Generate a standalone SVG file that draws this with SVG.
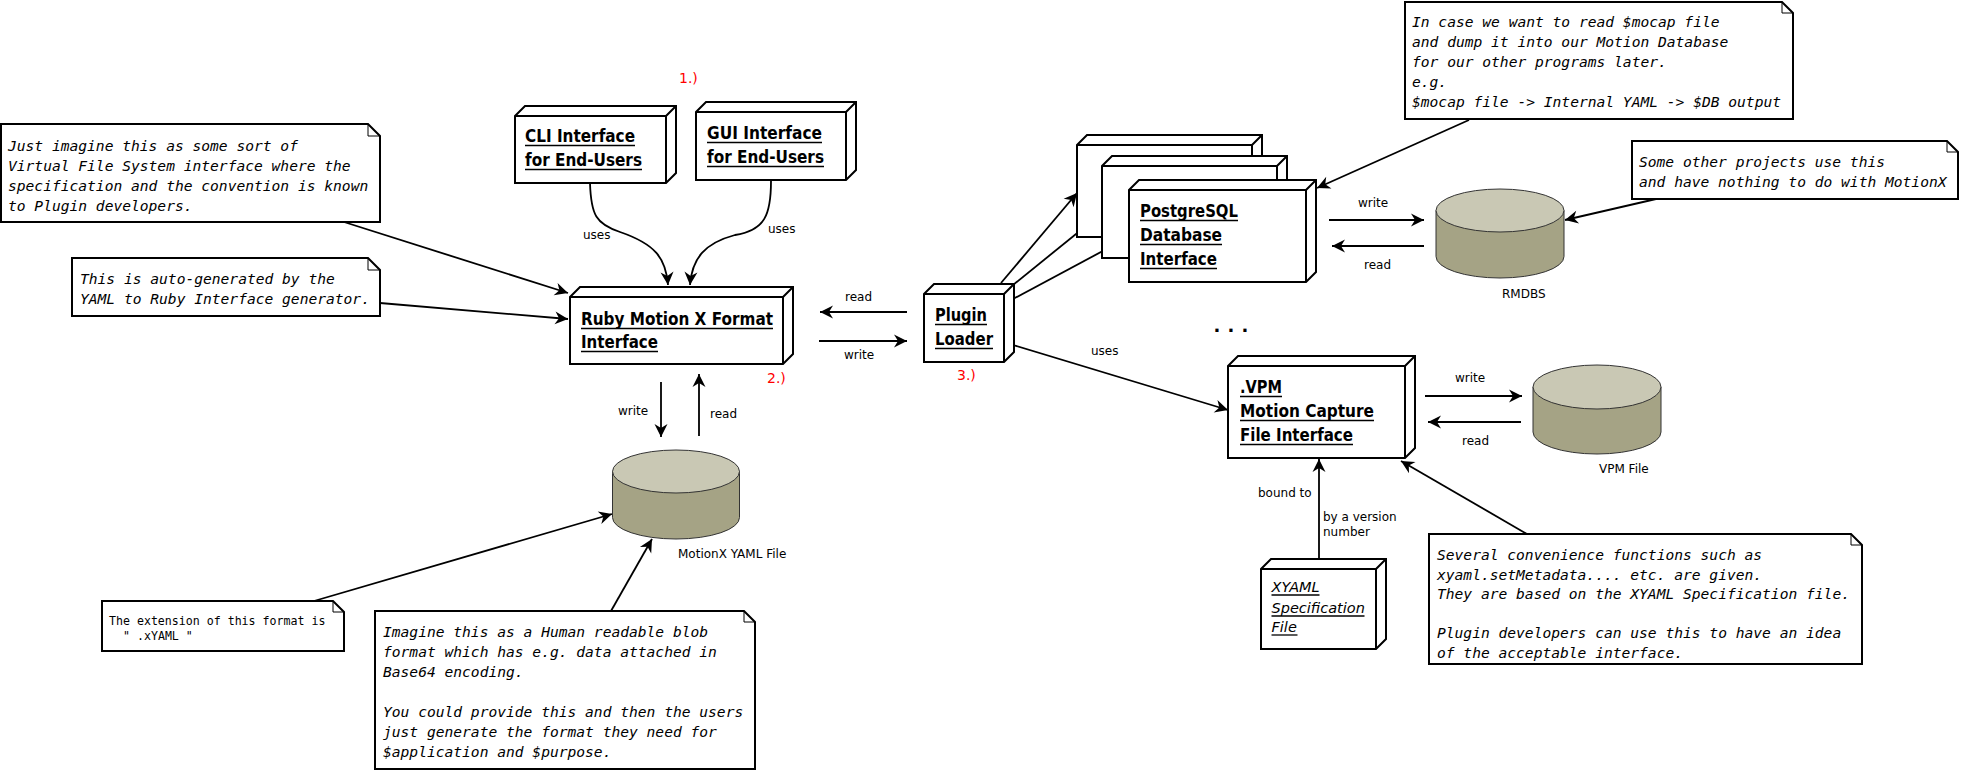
<svg xmlns="http://www.w3.org/2000/svg" width="1961" height="771" viewBox="0 0 1961 771">
<style>
.box{fill:#fff;stroke:#000;stroke-width:2;stroke-linejoin:miter}
.in{fill:none;stroke:#000;stroke-width:2}
.note{fill:#fff;stroke:#000;stroke-width:2}
.fold{fill:none;stroke:#000;stroke-width:1}
.conn{fill:none;stroke:#000;stroke-width:1.8;marker-end:url(#arr)}
.lbl{font-family:"DejaVu Sans",sans-serif;font-size:12px;fill:#000}
.nl{font-family:"DejaVu Sans",sans-serif;font-weight:bold;font-size:18.5px;fill:#000}
.il{font-family:"DejaVu Sans",sans-serif;font-style:italic;font-size:14.5px;fill:#000}
.ul{stroke:#000;stroke-width:1.3}
.mono{font-family:"DejaVu Sans Mono",monospace;font-style:italic;font-size:14.6px;fill:#000}
.mono2{font-family:"DejaVu Sans Mono",monospace;font-size:11.6px;fill:#000}
.red{font-family:"DejaVu Sans",sans-serif;font-size:14px;fill:#f00}
.ctop{fill:#c9c8b4;stroke:#333;stroke-width:1}
.cbody{fill:#a5a385;stroke:#333;stroke-width:1}
</style>
<defs>
<marker id="arr" viewBox="-14 -7 14 14" refX="0" refY="0" markerWidth="14" markerHeight="14" markerUnits="userSpaceOnUse" orient="auto">
<path d="M0,0 L-13,-6.5 L-9,0 L-13,6.5 Z" fill="#000"/>
</marker>
</defs>
<rect width="1961" height="771" fill="#fff"/>

<!-- connectors -->
<g id="connectors">
<path class="conn" d="M344,222 L568,293"/>
<path class="conn" d="M380,303 L568,319"/>
<path class="conn" d="M590,183 C591,215 596,224 620,232 C655,244 666,258 668,285"/>
<path class="conn" d="M771,181 C771,215 765,230 735,235 C705,243 692,258 690,285"/>
<path class="conn" d="M661,382 L661,437"/>
<path class="conn" d="M699,436 L699,374"/>
<path class="conn" d="M907,312 L820,312"/>
<path class="conn" d="M819,341 L907,341"/>
<path class="conn" d="M1001,283 L1077,193"/>
<path class="conn" d="M1013,285 L1102,213"/>
<path class="conn" d="M1013,299 L1129,237"/>
<path class="conn" d="M1013,345 L1228,410"/>
<path class="conn" d="M1469,120 L1317,188"/>
<path class="conn" d="M1329,220 L1424,220"/>
<path class="conn" d="M1424,246 L1332,246"/>
<path class="conn" d="M1656,199 L1565,220"/>
<path class="conn" d="M1425,396 L1522,396"/>
<path class="conn" d="M1521,422 L1428,422"/>
<path class="conn" d="M1319,559 L1319,459"/>
<path class="conn" d="M1527,534 L1401,461"/>
<path class="conn" d="M314,601 L612,514"/>
<path class="conn" d="M611,611 L652,539"/>
<text class="lbl" x="583" y="239">uses</text>
<text class="lbl" x="768" y="233">uses</text>
<text class="lbl" x="845" y="301">read</text>
<text class="lbl" x="844" y="359">write</text>
<text class="lbl" x="618" y="415">write</text>
<text class="lbl" x="710" y="418">read</text>
<text class="lbl" x="1091" y="355">uses</text>
<text class="lbl" x="1358" y="207">write</text>
<text class="lbl" x="1364" y="269">read</text>
<text class="lbl" x="1455" y="382">write</text>
<text class="lbl" x="1462" y="445">read</text>
<text class="lbl" x="1258" y="497">bound to</text>
<text class="lbl" x="1323" y="521">by a version</text>
<text class="lbl" x="1323" y="536">number</text>
</g>

<!-- nodes -->
<g id="cli">
<path class="box" d="M515,116 L525,106 L676,106 L676,173 L666,183 L515,183 Z"/>
<path class="in" d="M515,116 H666 V183 M666,116 L676,106"/>
<text class="nl" x="525" y="142" textLength="110" lengthAdjust="spacingAndGlyphs">CLI Interface</text>
<line class="ul" x1="525" y1="145.5" x2="635" y2="145.5"/>
<text class="nl" x="525" y="166" textLength="117" lengthAdjust="spacingAndGlyphs">for End-Users</text>
<line class="ul" x1="525" y1="169.5" x2="642" y2="169.5"/>
</g>

<g id="gui">
<path class="box" d="M696,112 L706,102 L856,102 L856,170 L846,180 L696,180 Z"/>
<path class="in" d="M696,112 H846 V180 M846,112 L856,102"/>
<text class="nl" x="707" y="139" textLength="115" lengthAdjust="spacingAndGlyphs">GUI Interface</text>
<line class="ul" x1="707" y1="142.5" x2="822" y2="142.5"/>
<text class="nl" x="707" y="163" textLength="117" lengthAdjust="spacingAndGlyphs">for End-Users</text>
<line class="ul" x1="707" y1="166.5" x2="824" y2="166.5"/>
</g>

<g id="ruby">
<path class="box" d="M570,297 L580,287 L793,287 L793,354 L783,364 L570,364 Z"/>
<path class="in" d="M570,297 H783 V364 M783,297 L793,287"/>
<text class="nl" x="581" y="325" textLength="192" lengthAdjust="spacingAndGlyphs">Ruby Motion X Format</text>
<line class="ul" x1="581" y1="328.5" x2="773" y2="328.5"/>
<text class="nl" x="581" y="348" textLength="77" lengthAdjust="spacingAndGlyphs">Interface</text>
<line class="ul" x1="581" y1="351.5" x2="658" y2="351.5"/>
</g>

<g id="plugin">
<path class="box" d="M924,294 L934,284 L1014,284 L1014,352 L1004,362 L924,362 Z"/>
<path class="in" d="M924,294 H1004 V362 M1004,294 L1014,284"/>
<text class="nl" x="935" y="321" textLength="52" lengthAdjust="spacingAndGlyphs">Plugin</text>
<line class="ul" x1="935" y1="324.5" x2="987" y2="324.5"/>
<text class="nl" x="935" y="345" textLength="58" lengthAdjust="spacingAndGlyphs">Loader</text>
<line class="ul" x1="935" y1="348.5" x2="993" y2="348.5"/>
</g>

<g id="stack1">
<path class="box" d="M1077,145 L1087,135 L1262,135 L1262,227 L1252,237 L1077,237 Z"/>
<path class="in" d="M1077,145 H1252 V237 M1252,145 L1262,135"/>
</g>
<g id="stack2">
<path class="box" d="M1102,166 L1112,156 L1287,156 L1287,248 L1277,258 L1102,258 Z"/>
<path class="in" d="M1102,166 H1277 V258 M1277,166 L1287,156"/>
</g>
<g id="postgres">
<path class="box" d="M1129,190 L1139,180 L1316,180 L1316,272 L1306,282 L1129,282 Z"/>
<path class="in" d="M1129,190 H1306 V282 M1306,190 L1316,180"/>
<text class="nl" x="1140" y="217" textLength="98" lengthAdjust="spacingAndGlyphs">PostgreSQL</text>
<line class="ul" x1="1140" y1="220.5" x2="1238" y2="220.5"/>
<text class="nl" x="1140" y="241" textLength="82" lengthAdjust="spacingAndGlyphs">Database</text>
<line class="ul" x1="1140" y1="244.5" x2="1222" y2="244.5"/>
<text class="nl" x="1140" y="265" textLength="77" lengthAdjust="spacingAndGlyphs">Interface</text>
<line class="ul" x1="1140" y1="268.5" x2="1217" y2="268.5"/>
</g>

<g id="vpm">
<path class="box" d="M1228,366 L1238,356 L1415,356 L1415,448 L1405,458 L1228,458 Z"/>
<path class="in" d="M1228,366 H1405 V458 M1405,366 L1415,356"/>
<text class="nl" x="1240" y="393" textLength="42" lengthAdjust="spacingAndGlyphs">.VPM</text>
<line class="ul" x1="1240" y1="396.5" x2="1282" y2="396.5"/>
<text class="nl" x="1240" y="417" textLength="134" lengthAdjust="spacingAndGlyphs">Motion Capture</text>
<line class="ul" x1="1240" y1="420.5" x2="1374" y2="420.5"/>
<text class="nl" x="1240" y="441" textLength="113" lengthAdjust="spacingAndGlyphs">File Interface</text>
<line class="ul" x1="1240" y1="444.5" x2="1353" y2="444.5"/>
</g>

<g id="xyaml">
<path class="box" d="M1261,569 L1271,559 L1386,559 L1386,639 L1376,649 L1261,649 Z"/>
<path class="in" d="M1261,569 H1376 V649 M1376,569 L1386,559"/>
<text class="il" x="1271.5" y="592">XYAML</text>
<line class="ul" x1="1271.5" y1="595" x2="1319.5" y2="595"/>
<text class="il" x="1271.5" y="613">Specification</text>
<line class="ul" x1="1271.5" y1="616" x2="1364.5" y2="616"/>
<text class="il" x="1271.5" y="632">File</text>
<line class="ul" x1="1271.5" y1="635" x2="1297.5" y2="635"/>
</g>

<g id="motionx-file">
<path class="cbody" d="M612.5,471.5 L612.5,517.5 A63.5,21.5 0 0 0 739.5,517.5 L739.5,471.5 Z"/>
<ellipse class="ctop" cx="676" cy="471.5" rx="63.5" ry="21.5"/>
<text class="lbl" x="678" y="558">MotionX YAML File</text>
</g>

<g id="rmdbs">
<path class="cbody" d="M1436,210.5 L1436,256.5 A64,21.5 0 0 0 1564,256.5 L1564,210.5 Z"/>
<ellipse class="ctop" cx="1500" cy="210.5" rx="64" ry="21.5"/>
<text class="lbl" x="1502" y="298">RMDBS</text>
</g>

<g id="vpm-file">
<path class="cbody" d="M1533,387 L1533,432 A64,22 0 0 0 1661,432 L1661,387 Z"/>
<ellipse class="ctop" cx="1597" cy="387" rx="64" ry="22"/>
<text class="lbl" x="1599" y="473">VPM File</text>
</g>

<g id="ellipsis">
<text x="1213.4" y="332" style="font-family:'DejaVu Sans',sans-serif;font-weight:bold;font-size:18px;letter-spacing:7.2px">...</text>
</g>

<g id="steps">
<text class="red" x="679" y="83">1.)</text>
<text class="red" x="767" y="383">2.)</text>
<text class="red" x="957" y="380">3.)</text>
</g>

<g id="note-vfs">
<path class="note" d="M1,124 H368 L380,136 V222 H1 Z"/>
<path class="fold" d="M368,124 V136 H380"/>
<text class="mono" x="8" y="150.7">Just imagine this as some sort of</text>
<text class="mono" x="8" y="170.7">Virtual File System interface where the</text>
<text class="mono" x="8" y="190.7">specification and the convention is known</text>
<text class="mono" x="8" y="210.7">to Plugin developers.</text>
</g>

<g id="note-autogen">
<path class="note" d="M72,258 H368 L380,270 V316 H72 Z"/>
<path class="fold" d="M368,258 V270 H380"/>
<text class="mono" x="80" y="284">This is auto-generated by the</text>
<text class="mono" x="80" y="304">YAML to Ruby Interface generator.</text>
</g>

<g id="note-mocap">
<path class="note" d="M1405,2 H1782 L1793,13 V119 H1405 Z"/>
<path class="fold" d="M1782,2 V13 H1793"/>
<text class="mono" x="1412" y="27">In case we want to read $mocap file</text>
<text class="mono" x="1412" y="47">and dump it into our Motion Database</text>
<text class="mono" x="1412" y="67">for our other programs later.</text>
<text class="mono" x="1412" y="87">e.g.</text>
<text class="mono" x="1412" y="107">$mocap file -&gt; Internal YAML -&gt; $DB output</text>
</g>

<g id="note-other">
<path class="note" d="M1632,141 H1947 L1958,152 V199 H1632 Z"/>
<path class="fold" d="M1947,141 V152 H1958"/>
<text class="mono" x="1639" y="167">Some other projects use this</text>
<text class="mono" x="1639" y="187">and have nothing to do with MotionX</text>
</g>

<g id="note-several">
<path class="note" d="M1429,534 H1851 L1862,545 V664 H1429 Z"/>
<path class="fold" d="M1851,534 V545 H1862"/>
<text class="mono" x="1437" y="560">Several convenience functions such as</text>
<text class="mono" x="1437" y="579.5">xyaml.setMetadata.... etc. are given.</text>
<text class="mono" x="1437" y="599">They are based on the XYAML Specification file.</text>
<text class="mono" x="1437" y="638">Plugin developers can use this to have an idea</text>
<text class="mono" x="1437" y="657.5">of the acceptable interface.</text>
</g>

<g id="note-extension">
<path class="note" d="M102,601 H333 L344,612 V651 H102 Z"/>
<path class="fold" d="M333,601 V612 H344"/>
<text class="mono2" x="109" y="625">The extension of this format is</text>
<text class="mono2" x="123" y="640">" .xYAML "</text>
</g>

<g id="note-imagine">
<path class="note" d="M375,611 H744 L755,622 V769 H375 Z"/>
<path class="fold" d="M744,611 V622 H755"/>
<text class="mono" x="383" y="637">Imagine this as a Human readable blob</text>
<text class="mono" x="383" y="657">format which has e.g. data attached in</text>
<text class="mono" x="383" y="677">Base64 encoding.</text>
<text class="mono" x="383" y="717">You could provide this and then the users</text>
<text class="mono" x="383" y="737">just generate the format they need for</text>
<text class="mono" x="383" y="757">$application and $purpose.</text>
</g>
</svg>
